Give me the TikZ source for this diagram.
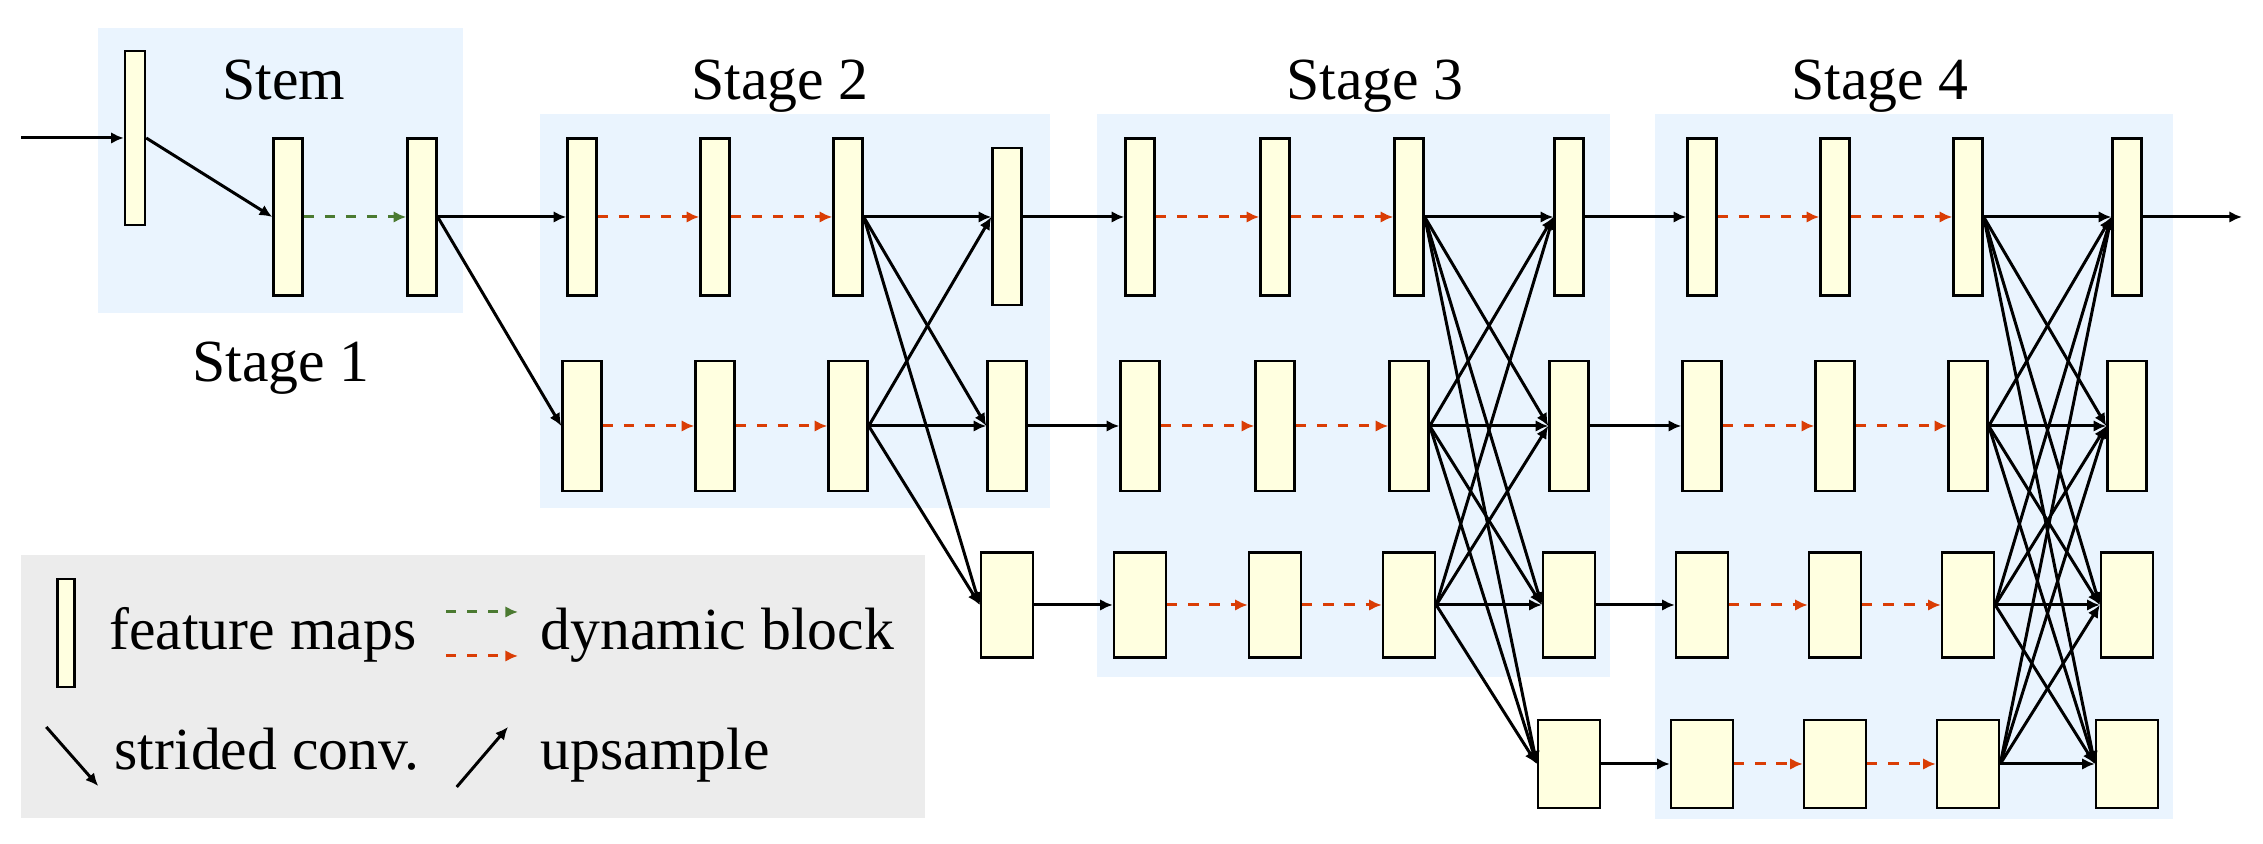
\documentclass[tikz,border=0pt]{standalone}
\usepackage{fontspec}
\setmainfont{Liberation Serif}
\usetikzlibrary{arrows.meta}
\tikzset{>={Latex[length=3.6pt,width=3.3pt]}}
\definecolor{fmy}{HTML}{FFFFE0}
\definecolor{stb}{HTML}{EAF4FE}
\definecolor{lgg}{HTML}{ECECEC}
\definecolor{dbr}{HTML}{DA3D05}
\definecolor{dbg}{HTML}{4B7A31}
\tikzset{
    fm/.style={draw, fill=fmy, line width=.7pt, inner sep=0pt},
    fmA/.style={fm, minimum width=.29cm, minimum height=1.57cm},
    fmB/.style={fm, minimum width=.39cm, minimum height=1.3cm},
    fmC/.style={fm, minimum width=.52cm, minimum height=1.05cm},
    fmD/.style={fm, minimum width=.62cm, minimum height=.88cm},
    cv/.style={->, line width=.85pt},
    db/.style={->, line width=.85pt, dash pattern=on 2.9pt off 3.1pt},
    lbl/.style={font=\fontsize{17}{20}\selectfont, inner sep=0pt}
}

\begin{document}
\begin{tikzpicture}
    \useasboundingbox(0, 0) rectangle (22.63, 8.44);
    % backgrounds
    \fill[stb](.98, 5.31) rectangle (4.63, 8.16);
    \fill[stb](5.4, 3.36) rectangle (10.5, 7.3);
    \fill[stb](10.97, 1.67) rectangle (16.1, 7.3);
    \fill[stb](16.55, .25) rectangle (21.725, 7.3);
    \fill[lgg](.21, .26) rectangle (9.25, 2.89);
    % titles
    \node[lbl, anchor=base](tstem) at (2.84, 7.44){Stem};
    \node[lbl, anchor=base](tst1) at (2.81, 4.62){Stage 1};
    \node[lbl, anchor=base](tst2) at (7.8, 7.44){Stage 2};
    \node[lbl, anchor=base](tst3) at (13.75, 7.44){Stage 3};
    \node[lbl, anchor=base](tst4) at (18.8, 7.44){Stage 4};
    % stem
    \node[fm, minimum width=.2cm, minimum height=1.74cm](stm1) at (1.35, 7.06){};
    \node[fmA](stm2) at (2.88, 6.27){};
    \node[fmA](stm3) at (4.22, 6.27){};
    \coordinate(in) at (.21, 7.06);
    \coordinate(out) at (22.42, 6.27);
    % stage 2
    \foreach \c/\x in {1/5.82, 2/7.15, 3/8.48}{
        \node[fmA](b2r1c\c) at (\x, 6.27){};
        \node[fmB](b2r2c\c) at (\x, 4.18){};
    }
    \node[fmA](b2r1c4) at (10.07, 6.175){};
    \node[fmB](b2r2c4) at (10.07, 4.18){};
    \node[fmC](b2r3c4) at (10.07, 2.39){};
    % stage 3
    \foreach \c/\x in {1/11.4, 2/12.75, 3/14.09, 4/15.69}{
        \node[fmA](b3r1c\c) at (\x, 6.27){};
        \node[fmB](b3r2c\c) at (\x, 4.18){};
        \node[fmC](b3r3c\c) at (\x, 2.39){};
    }
    \node[fmD](b3r4c4) at (15.69, .8){};
    % stage 4
    \foreach \c/\x in {1/17.02, 2/18.35, 3/19.68, 4/21.27}{
        \node[fmA](b4r1c\c) at (\x, 6.27){};
        \node[fmB](b4r2c\c) at (\x, 4.18){};
        \node[fmC](b4r3c\c) at (\x, 2.39){};
        \node[fmD](b4r4c\c) at (\x, .8){};
    }
    % stem arrows
    \draw[cv](in)--(stm1.west);
    \draw[cv](stm1.east)--(stm2.west);
    \draw[db, dbg](stm2.east)--(stm3.west);
    \draw[cv](stm3.east)--(b2r1c1.west);
    \draw[cv](stm3.east)--(b2r2c1.west);
    % dynamic blocks
    \foreach \i in {1, 2}{
        \draw[db, dbr](b2r\i c1.east)--(b2r\i c2.west);
        \draw[db, dbr](b2r\i c2.east)--(b2r\i c3.west);
    }
    \foreach \i in {1, 2, 3}{
        \draw[db, dbr](b3r\i c1.east)--(b3r\i c2.west);
        \draw[db, dbr](b3r\i c2.east)--(b3r\i c3.west);
    }
    \foreach \i in {1, ..., 4}{
        \draw[db, dbr](b4r\i c1.east)--(b4r\i c2.west);
        \draw[db, dbr](b4r\i c2.east)--(b4r\i c3.west);
    }
    % fusion in stage 2
    \draw[cv](b2r1c3.east)--(b2r1c3.east -| b2r1c4.west);
    \draw[cv](b2r1c3.east)--(b2r2c4.west);
    \draw[cv](b2r1c3.east)--(b2r3c4.west);
    \draw[cv](b2r2c3.east)--(b2r1c3.east -| b2r1c4.west);
    \draw[cv](b2r2c3.east)--(b2r2c4.west);
    \draw[cv](b2r2c3.east)--(b2r3c4.west);
    \draw[cv](b2r1c4.east |- b3r1c1.west)--(b3r1c1.west);
    \draw[cv](b2r2c4.east)--(b3r2c1.west);
    \draw[cv](b2r3c4.east)--(b3r3c1.west);
    % fusion in stage 3 and 4
    \foreach \i in {1, 2, 3}{
        \foreach \j in {1, ..., 4}{
            \draw[cv](b3r\i c3.east)--(b3r\j c4.west);
        }
    }
    \foreach \i in {1, ..., 4}{
        \draw[cv](b3r\i c4.east)--(b4r\i c1.west);
        \foreach \j in {1, ..., 4}{
            \draw[cv](b4r\i c3.east)--(b4r\j c4.west);
        }
    }
    \draw[cv](b4r1c4.east)--(out);
    % legend
    \node[fm, minimum width=.17cm, minimum height=1.08cm](lgfm) at (.66, 2.11){};
    \node[lbl, anchor=base west](lgt1) at (1.087, 1.94){feature maps};
    \node[lbl, anchor=base west](lgt2) at (5.4, 1.94){dynamic block};
    \node[lbl, anchor=base west](lgt3) at (1.14, .74){strided conv.};
    \node[lbl, anchor=base west](lgt4) at (5.4, .74){upsample};
    \coordinate(lga) at (4.46, 2.32);
    \coordinate(lgb) at (5.18, 2.32);
    \coordinate(lgc) at (4.46, 1.88);
    \coordinate(lgd) at (5.18, 1.88);
    \coordinate(lge) at (.463, 1.17);
    \coordinate(lgf) at (.982, .58);
    \coordinate(lgg) at (4.567, .57);
    \coordinate(lgh) at (5.08, 1.17);
    \draw[db, dbg](lga)--(lgb);
    \draw[db, dbr](lgc)--(lgd);
    \draw[cv](lge)--(lgf);
    \draw[cv](lgg)--(lgh);
\end{tikzpicture}
\end{document}
